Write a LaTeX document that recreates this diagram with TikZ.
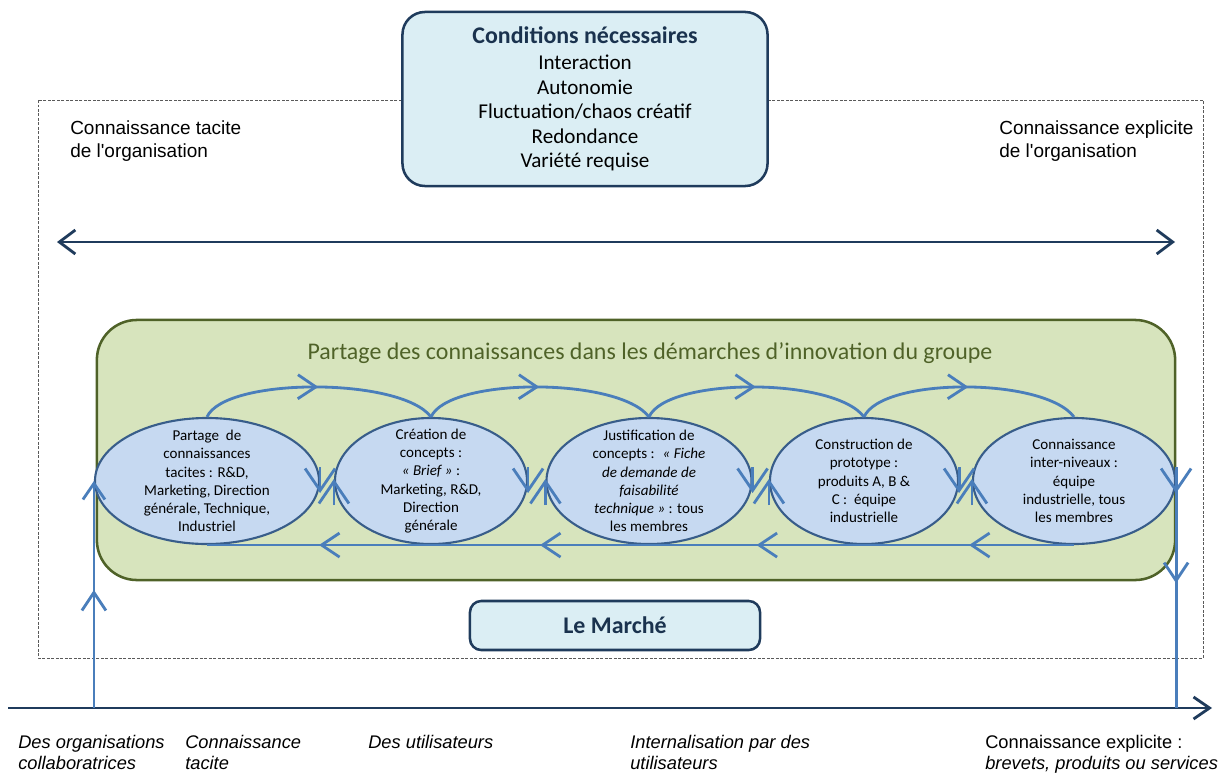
\documentclass[tikz,border=0pt]{standalone}
\usepackage{fontspec}
\setmainfont{Carlito}
\newfontfamily\arialfont{Liberation Sans}
\usepackage{tikz}
\usetikzlibrary{arrows.meta,positioning,shapes.geometric,decorations.markings,calc}
\definecolor{navy}{HTML}{1F3B5C}
\definecolor{paleblue}{HTML}{DBEEF4}
\definecolor{leaf}{HTML}{D7E4BD}
\definecolor{olive}{HTML}{4F6228}
\definecolor{bubble}{HTML}{C6D9F1}
\definecolor{rim}{HTML}{385D8A}
\definecolor{flowc}{HTML}{4A7EBB}
\definecolor{dashc}{HTML}{5A5A5A}
\tikzset{
  cbox/.style={draw=navy,line width=1.8pt,fill=paleblue,align=center,inner sep=0pt},
  cyc/.style={ellipse,draw=rim,line width=1.5pt,fill=bubble,inner sep=-16pt,minimum height=3.15cm,align=center,font=\fontsize{10.7}{13}\selectfont},
  flow/.style={line width=2pt,color=flowc},
  tip/.style={-{Straight Barb[length=4mm,width=5.5mm]}},
  sidetip/.style={-{Straight Barb[length=5.5mm,width=7.5mm]}},
  midarr/.style={postaction={decorate,decoration={markings,mark=at position #1 with {\arrow{Straight Barb[length=4.5mm,width=6mm]}}}}},
  midarr/.default=0.5,
  lbl/.style={font=\arialfont\fontsize{13.5}{17}\selectfont,align=left,inner sep=0pt,anchor=north west},
  axlbl/.style={font=\arialfont\fontsize{13}{15}\selectfont,align=left,inner sep=0pt,anchor=north west}}
\begin{document}
\begin{tikzpicture}[x=0.025cm,y=-0.025cm]
\useasboundingbox (0,0) rectangle (1221,775);
% frame and top
\draw[dashc,line width=0.7pt,dash pattern=on 2pt off 1.2pt] (38,100) rectangle (1203,658);
\node[cbox,rounded corners=16pt,minimum width=9.125cm,minimum height=4.35cm,font=\fontsize{15}{17.4}\selectfont] (cond) at (585,99)
  {{\fontsize{17}{20}\selectfont\bfseries\color{navy!85!black}Conditions nécessaires}\\[1pt]
   Interaction\\Autonomie\\Fluctuation/chaos créatif\\Redondance\\Variété requise};
\node[lbl] (tac) at (70,120) {Connaissance tacite\\de l'organisation};
\node[lbl] (exp) at (999,120) {Connaissance explicite\\de l'organisation};
\coordinate (al) at (57,242); \coordinate (ar) at (1175,242);
\draw[navy,line width=2pt,{Straight Barb[length=4mm,width=6mm]}-{Straight Barb[length=4mm,width=6mm]}] (al) -- (ar);
% group box
\node[draw=olive,line width=1.8pt,fill=leaf,rounded corners=1cm,minimum width=26.95cm,minimum height=6.5cm] (grp) at (636,450) {};
\node[font=\fontsize{17}{20}\selectfont,text=olive] (grpt) at (650,353) {Partage des connaissances dans les démarches d’innovation du groupe};
\node[cyc,minimum width=5.6cm] (e1) at (207,481) {Partage~ de\\connaissances\\tacites : R\&D,\\Marketing, Direction\\générale, Technique,\\Industriel};
\node[cyc,minimum width=4.8cm] (e2) at (431,481) {Création de\\concepts :\\\textit{«~Brief~»} :\\Marketing, R\&D,\\Direction\\générale};
\node[cyc,minimum width=5.125cm] (e3) at (649,481) {Justification de\\concepts : ~\textit{«~Fiche}\\\textit{de demande de}\\\textit{faisabilité}\\\textit{technique~»} : tous\\les membres};
\node[cyc,minimum width=4.7cm] (e4) at (864,481) {Construction de\\prototype :\\produits A, B \&\\C : ~équipe\\industrielle};
\node[cyc,minimum width=5.05cm] (e5) at (1074,481) {Connaissance\\inter-niveaux :\\équipe\\industrielle, tous\\les membres};
% cycle arrows
\foreach \a/\b in {e1/e2,e2/e3,e3/e4,e4/e5}{
  \draw[flow,midarr] (\a.north) .. controls +(18,-40) and +(-30,-40) .. (\b.north);
  \draw[flow,midarr] (\b.south) -- (\a.south);}
\foreach \e in {e1,e2,e3,e4,e5}
  \draw[flow,sidetip] ($(\e.east)+(0,-14)$) -- ($(\e.east)+(0,12)$);
\foreach \e in {e2,e3,e4,e5}
  \draw[flow,sidetip] ($(\e.west)+(0,24)$) -- ($(\e.west)+(0,-2)$);
% market and time axis
\node[cbox,rounded corners=8pt,minimum width=7.25cm,minimum height=1.225cm,font=\fontsize{17}{20}\selectfont\bfseries,text=navy!85!black] (mkt) at (615,625.5) {Le Marché};
\coordinate (t0) at (8,708); \coordinate (t1) at (1212,708);
\draw[navy,line width=2pt,-{Straight Barb[length=4mm,width=5.5mm]}] (t0) -- (t1);
\draw[flow,tip,midarr=0.52] (e1.west |- t0) -- (e1.west);
\draw[flow,midarr=0.45] (e5.east) -- (e5.east |- t0);
% labels under the axis
\node[axlbl,font=\arialfont\itshape\fontsize{13}{15}\selectfont] (b1) at (18,735) {Des organisations\\collaboratrices};
\node[axlbl,font=\arialfont\itshape\fontsize{13}{15}\selectfont] (b2) at (185,735) {Connaissance\\tacite};
\node[axlbl,font=\arialfont\itshape\fontsize{13}{15}\selectfont] (b3) at (368,735) {Des utilisateurs};
\node[axlbl,font=\arialfont\itshape\fontsize{13}{15}\selectfont] (b4) at (630,735) {Internalisation par des\\utilisateurs};
\node[axlbl] (b5) at (985,735) {Connaissance explicite :\\\textit{brevets, produits ou services}};
\end{tikzpicture}
\end{document}
